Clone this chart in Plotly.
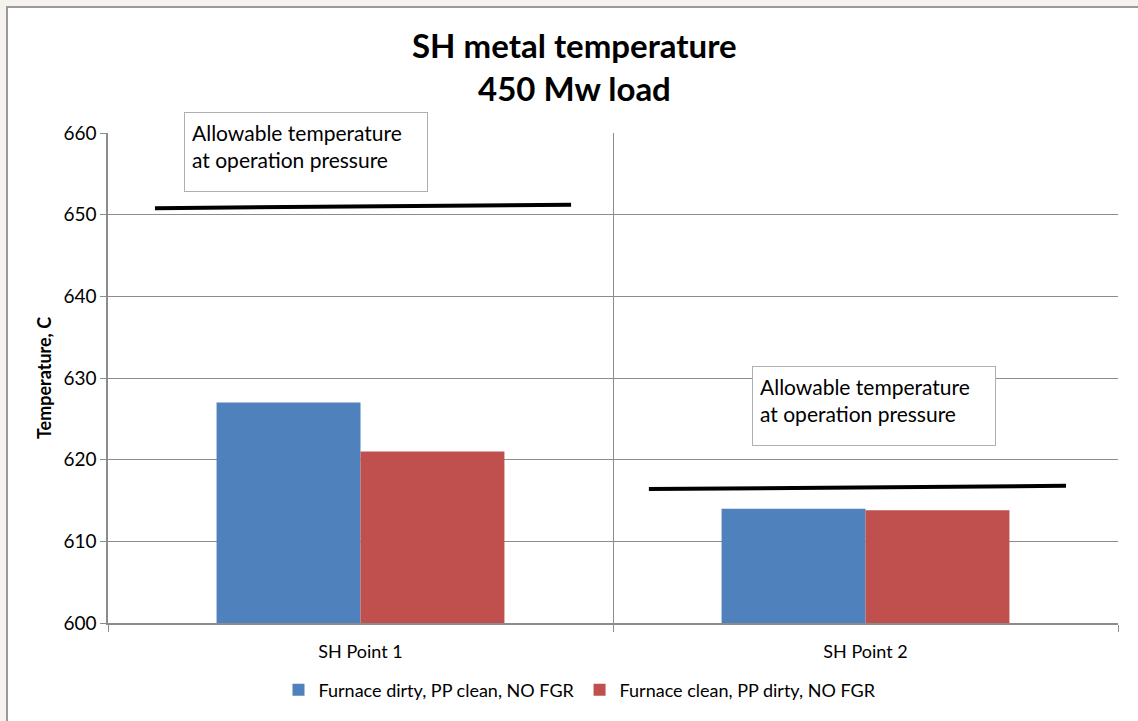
import plotly.graph_objects as go

# Chart data
categories = ["SH Point 1", "SH Point 2"]
furnace_dirty_pp_clean = [627.0, 614.0]
furnace_clean_pp_dirty = [621.0, 613.8]
allowable_left = [650.8, 616.4]   # allowable-temperature line, left end
allowable_right = [651.2, 616.8]  # allowable-temperature line, right end
y_ticks = [600, 610, 620, 630, 640, 650, 660]

FONT = "Lato"
GRID = "#8c8c8c"

fig = go.Figure()
fig.add_trace(go.Bar(
    name="Furnace dirty, PP clean, NO FGR",
    x=categories, y=furnace_dirty_pp_clean,
    marker=dict(color="#4f81bd", line=dict(width=0)),
))
fig.add_trace(go.Bar(
    name="Furnace clean, PP dirty, NO FGR",
    x=categories, y=furnace_clean_pp_dirty,
    marker=dict(color="#c0504d", line=dict(width=0)),
))

# Outer chart frame drawn behind the plot
fig.add_shape(type="rect", xref="paper", yref="paper",
              x0=-0.1, x1=1.03, y0=-0.25, y1=1.257,
              line=dict(color="#9a9a9a", width=2), fillcolor="white",
              layer="below")

# Allowable-temperature reference lines (one per category)
line_span = [(-0.407, 0.417), (0.571, 1.397)]
for (xa, xb), ya, yb in zip(line_span, allowable_left, allowable_right):
    fig.add_shape(type="line", xref="x", yref="y",
                  x0=xa, x1=xb, y0=ya, y1=yb,
                  line=dict(color="black", width=4))

# Text boxes labelling the reference lines
for bx, by in [(0.196, 0.961), (0.758, 0.443)]:
    fig.add_annotation(
        xref="paper", yref="paper", x=bx, y=by,
        xanchor="center", yanchor="middle",
        text="Allowable temperature<br>at operation pressure",
        showarrow=False, align="left", valign="top",
        width=228, height=64,
        bgcolor="white", bordercolor="#b0b0b0", borderwidth=1, borderpad=7,
        font=dict(family=FONT, size=21, color="black"),
    )

# Two-line title
for ty, txt in [(45, "SH metal temperature"), (88, "450 Mw load")]:
    fig.add_annotation(
        xref="paper", yref="paper", x=(574 - 108) / 1010, y=(623 - ty) / 490,
        text=f"<b>{txt}</b>", showarrow=False,
        font=dict(family=FONT, size=33, color="black"),
        xanchor="center", yanchor="middle",
    )

fig.update_layout(
    width=1138, height=721,
    margin=dict(l=108, r=20, t=133, b=98),
    paper_bgcolor="#f6f3ef", plot_bgcolor="white",
    barmode="group", bargap=0.43, bargroupgap=0,
    font=dict(family=FONT, color="black"),
    showlegend=True,
    legend=dict(orientation="h", xanchor="center", yanchor="middle",
                x=(580 - 108) / 1010, y=(623 - 690) / 490,
                font=dict(family=FONT, size=18), bgcolor="rgba(0,0,0,0)",
                itemwidth=30),
)
fig.update_xaxes(
    type="category", range=[-0.5, 1.5], tickson="boundaries",
    showgrid=True, gridcolor=GRID, gridwidth=1,
    showline=True, linecolor=GRID, linewidth=1.5,
    ticks="outside", ticklen=7, tickcolor=GRID,
    ticklabelstandoff=12,
    tickfont=dict(family=FONT, size=18), fixedrange=True,
)
fig.update_yaxes(
    range=[600, 660], tickvals=y_ticks,
    showgrid=True, gridcolor=GRID, gridwidth=1,
    showline=True, linecolor=GRID, linewidth=1.5,
    ticks="outside", ticklen=6, tickcolor=GRID,
    tickfont=dict(family=FONT, size=19),
    title=dict(text="<b>Temperature, C</b>", font=dict(family=FONT, size=18),
               standoff=7),
    zeroline=False,
)

fig.write_html("out.html")
